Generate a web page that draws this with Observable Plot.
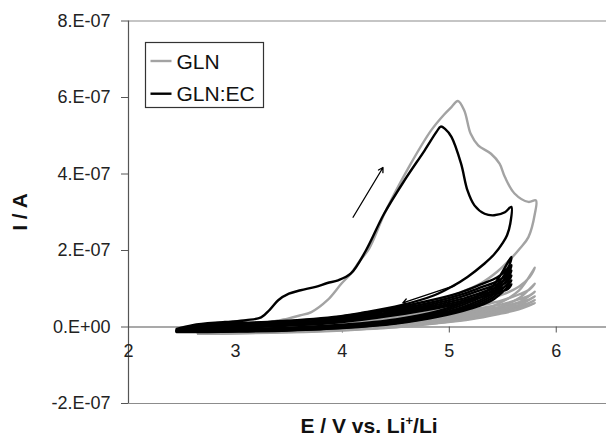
<!DOCTYPE html>
<html><head><meta charset="utf-8">
<script src="https://cdn.jsdelivr.net/npm/d3@7"></script>
<script src="https://cdn.jsdelivr.net/npm/@observablehq/plot@0.6"></script>
<style>body{margin:0;background:#fff;} #chart{position:relative;width:606px;height:436px;}</style>
</head><body><div id="chart"></div>
<script>
// ---- data (current in units of 1e-7 A) ----
const unit = 1e-7;
const seriesNames = ["GLN", "GLN:EC"];
const seriesColors = ["#a3a3a3", "#000000"];
const xTicks = [2, 3, 4, 5, 6];
const yTicks = [-2e-7, 0, 2e-7, 4e-7, 6e-7, 8e-7];
const yTickLabels = ["-2.E-07", "0.E+00", "2.E-07", "4.E-07", "6.E-07", "8.E-07"];

// GLN first cycle
const glnFirstE = [2.65,2.9,3.2,3.35,3.49,3.6,3.71,3.86,3.99,4.08,4.16,4.25,4.4,4.64,4.83,4.95,5.02,5.08,5.14,5.20,5.27,5.39,5.47,5.52,5.61,5.74,5.81,5.80,5.74,5.66,5.58,5.45,5.3,5.1,4.8,4.4,3.9,3.3,2.65];
const glnFirstI = [-0.12,-0.02,0.08,0.15,0.22,0.3,0.39,0.70,1.13,1.40,1.72,2.05,3.0,4.27,5.14,5.55,5.75,5.91,5.66,5.05,4.75,4.53,4.27,3.92,3.49,3.27,3.31,2.96,2.35,2.05,1.8,1.45,1.15,0.9,0.6,0.35,0.15,0.0,-0.12];
// GLN later cycles
const glnLaterE = [2.65,3.0,3.5,4.0,4.5,4.9,5.2,5.45,5.65,5.8,5.75,5.65,5.5,5.3,5.0,4.6,4.1,3.5,3.0,2.65];
const glnCycle2I = [-0.14,-0.12,-0.08,-0.02,0.08,0.22,0.38,0.6,0.95,1.55,1.3,1.05,0.85,0.68,0.5,0.34,0.2,0.08,-0.02,-0.14];
const glnCycle3I = [-0.15,-0.13,-0.1,-0.04,0.05,0.18,0.32,0.5,0.75,1.13,0.98,0.85,0.7,0.57,0.43,0.3,0.17,0.06,-0.04,-0.15];
const glnCycle4I = [-0.16,-0.14,-0.11,-0.06,0.03,0.15,0.28,0.44,0.64,0.92,0.82,0.72,0.6,0.5,0.38,0.26,0.14,0.04,-0.06,-0.16];
const glnCycle5I = [-0.17,-0.15,-0.12,-0.07,0.01,0.13,0.25,0.4,0.57,0.8,0.72,0.64,0.54,0.45,0.34,0.23,0.12,0.02,-0.08,-0.17];
const glnCycle6I = [-0.17,-0.16,-0.13,-0.08,0.0,0.11,0.22,0.36,0.51,0.7,0.63,0.57,0.49,0.41,0.31,0.2,0.1,0.01,-0.09,-0.17];
const glnCycle7I = [-0.18,-0.17,-0.14,-0.09,-0.01,0.1,0.2,0.33,0.46,0.62,0.57,0.52,0.45,0.38,0.28,0.18,0.08,0.0,-0.1,-0.18];

// GLN:EC first cycle
const ecFirstE = [2.45,2.6,2.9,3.1,3.24,3.32,3.40,3.50,3.61,3.75,3.86,3.96,4.08,4.22,4.39,4.58,4.77,4.88,4.92,4.96,5.02,5.11,5.17,5.235,5.33,5.42,5.52,5.58,5.57,5.54,5.5,5.42,5.33,5.17,5.02,4.86,4.55,4.2,3.92,3.3,2.67,2.45];
const ecFirstI = [-0.05,0.05,0.13,0.18,0.25,0.45,0.70,0.87,0.96,1.05,1.15,1.22,1.40,2.0,2.96,3.83,4.62,5.10,5.24,5.18,4.97,4.27,3.57,3.18,2.96,2.92,3.00,3.14,2.7,2.4,2.2,1.9,1.66,1.31,1.05,0.83,0.57,0.38,0.26,0.13,0.07,-0.05];
// GLN:EC later cycles
const ecLaterE = [2.45,2.7,3.0,3.5,4.0,4.5,4.9,5.2,5.4,5.58,5.55,5.45,5.3,5.1,4.8,4.4,3.9,3.3,2.7,2.45];
const ecCycle2I = [-0.08,-0.08,-0.06,-0.02,0.06,0.2,0.42,0.72,1.05,1.83,1.55,1.3,1.12,0.9,0.68,0.45,0.24,0.12,0.05,-0.08];
const ecCycle3I = [-0.09,-0.09,-0.08,-0.04,0.04,0.16,0.38,0.66,0.95,1.62,1.4,1.2,1.04,0.84,0.62,0.41,0.2,0.09,0.03,-0.09];
const ecCycle4I = [-0.1,-0.1,-0.09,-0.05,0.02,0.13,0.34,0.6,0.88,1.48,1.3,1.12,0.97,0.78,0.57,0.37,0.17,0.07,0.01,-0.1];
const ecCycle5I = [-0.11,-0.11,-0.1,-0.07,0.0,0.11,0.31,0.55,0.82,1.35,1.2,1.05,0.9,0.72,0.53,0.33,0.14,0.05,-0.01,-0.11];
const ecCycle6I = [-0.12,-0.12,-0.11,-0.08,-0.02,0.1,0.29,0.51,0.76,1.22,1.1,0.97,0.84,0.67,0.49,0.3,0.12,0.03,-0.03,-0.12];
const ecCycle7I = [-0.13,-0.13,-0.12,-0.09,-0.03,0.09,0.27,0.48,0.7,1.12,1.0,0.9,0.78,0.62,0.45,0.27,0.1,0.01,-0.05,-0.13];

// direction arrows [E1, I1, E2, I2]
const arrowUp = [4.10, 2.87, 4.38, 4.17];
const arrowBack = [5.055, 1.09, 4.565, 0.63];

// ---- build tables ----
function cycleRows(series, cycle, E, I) {
  const n = Math.min(E.length, I.length);
  return d3.range(n).map(i => ({series, cycle: series + cycle, E: E[i], I: I[i] * unit}));
}
const glnRows = [
  ...cycleRows("GLN", 7, glnLaterE, glnCycle7I),
  ...cycleRows("GLN", 6, glnLaterE, glnCycle6I),
  ...cycleRows("GLN", 5, glnLaterE, glnCycle5I),
  ...cycleRows("GLN", 4, glnLaterE, glnCycle4I),
  ...cycleRows("GLN", 3, glnLaterE, glnCycle3I),
  ...cycleRows("GLN", 2, glnLaterE, glnCycle2I),
  ...cycleRows("GLN", 1, glnFirstE, glnFirstI)
];
const ecRows = [
  ...cycleRows("GLN:EC", 7, ecLaterE, ecCycle7I),
  ...cycleRows("GLN:EC", 6, ecLaterE, ecCycle6I),
  ...cycleRows("GLN:EC", 5, ecLaterE, ecCycle5I),
  ...cycleRows("GLN:EC", 4, ecLaterE, ecCycle4I),
  ...cycleRows("GLN:EC", 3, ecLaterE, ecCycle3I),
  ...cycleRows("GLN:EC", 2, ecLaterE, ecCycle2I),
  ...cycleRows("GLN:EC", 1, ecFirstE, ecFirstI)
];
const arrowRows = [arrowUp, arrowBack].map(a => ({x1: a[0], y1: a[1] * unit, x2: a[2], y2: a[3] * unit}));

// ---- layout ----
const W = 606, H = 436, MT = 20.5, MB = 33, ML = 128, MR = 0;
const xDomain = [2, 6.47], yDomain = [-2e-7, 8e-7];
const zeroOffset = (0 - yDomain[0]) / (yDomain[1] - yDomain[0]) * (H - MT - MB);
const font = "'Liberation Sans', Arial, Helvetica, sans-serif";

const plot = Plot.plot({
  width: W, height: H,
  marginTop: MT, marginBottom: MB, marginLeft: ML, marginRight: MR,
  x: {domain: xDomain, axis: null},
  y: {domain: yDomain, axis: null},
  style: {fontFamily: font, fontSize: "18px", background: "#fff", color: "#222", overflow: "visible"},
  marks: [
    Plot.ruleY([yDomain[1], yDomain[0]], {stroke: "#8c8c8c", strokeWidth: 1.2}),
    Plot.ruleY([0], {stroke: "#555", strokeWidth: 1.2}),
    Plot.ruleX([xDomain[0]], {stroke: "#555", strokeWidth: 1.2}),
    Plot.axisY({ticks: yTicks, tickFormat: d => yTickLabels[yTicks.indexOf(d)], tickSize: 7, tickPadding: 11, stroke: "#555", fill: "#222", fontSize: 18}),
    Plot.axisX({ticks: xTicks, tickFormat: d => String(d), tickSize: 6, tickPadding: 11, dy: -zeroOffset, stroke: "#555", fill: "#222", fontSize: 18}),
    Plot.line(glnRows, {x: "E", y: "I", z: "cycle", stroke: seriesColors[0], strokeWidth: 2.4, curve: "catmull-rom"}),
    Plot.line(ecRows, {x: "E", y: "I", z: "cycle", stroke: seriesColors[1], strokeWidth: 2.4, curve: "catmull-rom"}),
    Plot.arrow(arrowRows, {x1: "x1", y1: "y1", x2: "x2", y2: "y2", stroke: "#000", strokeWidth: 1.3, headLength: 6})
  ]
});
document.getElementById("chart").appendChild(plot);

// ---- axis titles & legend ----
const svg = d3.select(plot);
svg.append("text")
  .attr("transform", "translate(19,212) rotate(-90)")
  .attr("text-anchor", "middle").attr("dominant-baseline", "central")
  .attr("font-family", font).attr("font-size", 21).attr("font-weight", "bold").attr("fill", "#111")
  .text("I / A");
const xl = svg.append("text")
  .attr("x", 369).attr("y", 433).attr("text-anchor", "middle")
  .attr("font-family", font).attr("font-size", 21).attr("font-weight", "bold").attr("fill", "#111");
xl.append("tspan").text("E / V vs. Li");
xl.append("tspan").attr("font-size", 13).attr("dy", -8).text("+");
xl.append("tspan").attr("dy", 8).text("/Li");

const lg = svg.append("g");
lg.append("rect").attr("x", 145.5).attr("y", 42.5).attr("width", 118).attr("height", 65)
  .attr("fill", "#fff").attr("stroke", "#333").attr("stroke-width", 1.2);
seriesNames.forEach((name, i) => {
  const cy = 61 + i * 32.7;
  lg.append("line").attr("x1", 150.5).attr("x2", 171.5).attr("y1", cy).attr("y2", cy)
    .attr("stroke", seriesColors[i]).attr("stroke-width", 2.4);
  lg.append("text").attr("x", 176.5).attr("y", cy + 7.5).attr("text-anchor", "start")
    .attr("font-family", font).attr("font-size", 21).attr("fill", "#111").text(name);
});
</script></body></html>
